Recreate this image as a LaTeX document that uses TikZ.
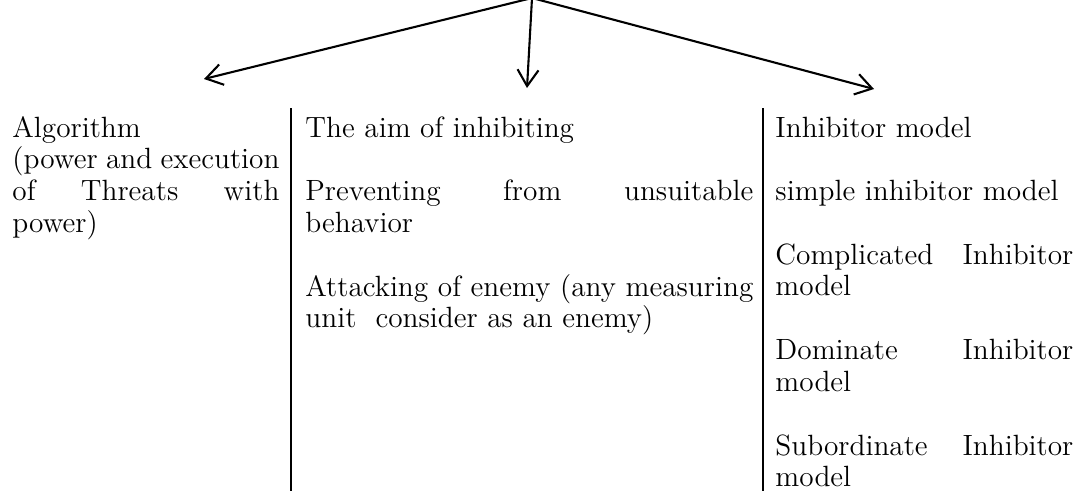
\documentclass[tikz,border=0pt]{standalone}
\usetikzlibrary{arrows.meta}
\hyphenpenalty=10000
\lineskiplimit=-20pt

\begin{document}
\begin{tikzpicture}[x=0.43pt, y=-0.43pt,
    arr/.style={line width=0.9pt, -{Straight Barb[length=7pt, width=9pt]}},
    sep/.style={line width=0.9pt},
    cell/.style={anchor=base west, inner sep=0pt, align=justify,
      font=\fontsize{12.6pt}{13.67pt}\selectfont}]
    \useasboundingbox (0,0) rectangle (1078,491);

    % Arrows from the top
    \coordinate (root) at (532,-2);
    \coordinate (tipA) at (204,79);
    \coordinate (tipB) at (527,88);
    \coordinate (tipC) at (874,89);
    \draw[arr] (root) -- (tipA);
    \draw[arr] (root) -- (tipB);
    \draw[arr] (root) -- (tipC);

    % Column rules
    \coordinate (ruleAtop) at (291,108);
    \coordinate (ruleAbot) at (291,491);
    \coordinate (ruleBtop) at (763,108);
    \coordinate (ruleBbot) at (763,491);
    \draw[sep] (ruleAtop) -- (ruleAbot);
    \draw[sep] (ruleBtop) -- (ruleBbot);

    % Left column
    \node[cell, text width=114.8pt] (algo) at (12,137)
      {Algorithm\newline (power and execution\linebreak of Threats with\linebreak power)};

    % Middle column
    \node[cell, text width=192.6pt] (aim) at (305,137) {The aim of inhibiting};
    \node[cell, text width=192.6pt] (prevent) at (305,200.6)
      {Preventing from unsuitable\linebreak behavior};
    \node[cell, text width=192.6pt] (attack) at (305,296)
      {Attacking of enemy (any measuring\linebreak unit\ \ consider as an enemy)};

    % Right column
    \node[cell, text width=128.1pt] (model) at (775,137) {Inhibitor model};
    \node[cell, text width=128.1pt] (simple) at (775,200.6) {simple inhibitor model};
    \node[cell, text width=128.1pt] (complic) at (775,264.2)
      {Complicated Inhibitor\linebreak model};
    \node[cell, text width=128.1pt] (domin) at (775,359.6)
      {Dominate Inhibitor\linebreak model};
    \node[cell, text width=128.1pt] (subord) at (775,455)
      {Subordinate Inhibitor\linebreak model};
  \end{tikzpicture}
\end{document}
